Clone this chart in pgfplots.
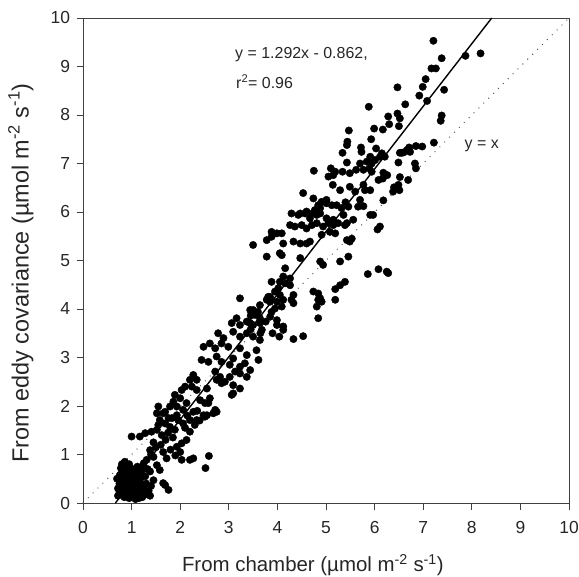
\documentclass[border=0pt]{standalone}
\usepackage{pgfplots}
\pgfplotsset{compat=1.18}
\usepackage{fontspec}
\setmainfont{Liberation Sans}
\begin{document}
\begin{tikzpicture}
\path[use as bounding box] (-83bp,-74bp) rectangle (496bp,503bp);
\begin{axis}[
  scale only axis,
  width=486bp, height=485bp,
  xmin=0, xmax=10, ymin=0, ymax=10,
  xtick={0,1,...,10}, ytick={0,1,...,10},
  tick align=outside,
  xtick pos=bottom, ytick pos=left,
  major tick length=6.5bp,
  tick style={black!75, line width=0.8bp},
  axis line style={black!75, line width=0.9bp},
  /pgf/number format/assume math mode=true,
  tick label style={font=\fontsize{17.5}{19}\selectfont, text=black!85},
  xticklabel style={yshift=-8bp},
  yticklabel style={xshift=-3bp},
  xlabel={From chamber (µmol m\textsuperscript{-2} s\textsuperscript{-1})},
  ylabel={From eddy covariance (µmol m\textsuperscript{-2} s\textsuperscript{-1})},
  xlabel style={font=\fontsize{20.5}{23}\selectfont, text=black!85, at={(axis description cs:0.473,-0.128)}, anchor=center},
  ylabel style={font=\fontsize{23.5}{26}\selectfont, text=black!85, at={(axis description cs:-0.128,0.474)}, anchor=center},
  clip=false,
]
\addplot[black!70, dash pattern=on 0.9bp off 6bp, line width=1bp] coordinates {(0,0) (10,10)};
\addplot[only marks, mark=*, mark size=3.7bp, mark options={fill=black, draw=black}] table {
x y
7.21 9.53
7.87 9.22
8.18 9.27
7.38 9.17
7.17 8.96
7.26 8.96
7.05 8.74
6.99 8.58
6.47 8.57
7.43 8.52
6.92 8.40
7.08 8.29
6.63 8.22
5.88 8.17
6.28 7.97
6.47 8.03
6.52 7.93
7.38 7.99
7.36 7.88
6.30 7.81
6.50 7.77
6.17 7.70
5.99 7.72
5.47 7.68
5.93 7.50
5.44 7.45
5.43 7.38
7.22 7.43
6.98 7.35
6.85 7.36
6.71 7.33
6.60 7.23
6.52 7.22
6.15 7.21
6.11 7.14
5.72 7.33
5.73 7.24
5.34 7.22
6.03 7.31
6.56 7.22
6.67 7.28
6.73 7.24
5.91 7.14
6.21 7.14
6.49 7.02
6.83 7.00
6.85 6.90
5.43 7.02
5.70 7.00
5.84 7.04
5.94 7.00
6.01 7.07
4.75 6.85
5.10 6.90
5.19 6.83
5.15 6.76
5.34 6.83
5.49 6.80
5.62 6.87
5.77 6.87
5.89 6.90
5.94 6.83
6.18 6.81
5.05 6.73
4.53 6.39
5.14 6.56
5.29 6.45
5.49 6.52
5.60 6.42
5.77 6.56
5.80 6.45
5.91 6.45
6.08 6.66
6.17 6.69
6.26 6.76
6.52 6.72
6.69 6.66
6.40 6.51
6.49 6.56
6.51 6.45
6.38 6.42
6.18 6.24
4.74 6.28
4.91 6.21
5.01 6.25
4.88 6.08
5.12 6.14
5.22 6.14
5.32 6.08
5.46 6.11
5.66 6.11
5.77 6.12
5.70 6.25
4.84 6.14
5.01 6.18
5.40 6.20
5.91 5.94
5.97 5.94
6.11 5.70
6.06 5.64
4.47 5.97
4.60 6.01
4.67 5.87
4.81 5.94
5.01 5.87
5.15 5.84
5.36 5.94
5.39 5.73
5.56 5.84
4.29 5.97
4.43 5.94
4.57 5.97
4.69 5.96
4.77 6.04
4.88 5.97
4.26 5.73
4.36 5.70
4.50 5.73
4.60 5.66
4.71 5.73
4.81 5.77
4.94 5.70
5.05 5.77
5.15 5.73
5.25 5.77
5.43 5.77
3.88 5.59
3.99 5.56
4.09 5.56
5.08 5.59
4.91 5.53
5.19 5.56
5.43 5.42
5.49 5.39
5.53 5.45
4.12 5.35
4.33 5.39
4.47 5.35
4.60 5.35
4.67 5.39
3.50 5.32
3.78 5.42
3.88 5.49
4.05 5.15
4.09 5.11
3.78 5.08
4.47 5.05
4.88 4.98
5.29 4.98
5.46 5.08
4.94 4.91
4.16 4.84
5.86 4.72
6.08 4.82
6.25 4.77
6.28 4.74
4.12 4.67
4.05 4.56
3.88 4.56
4.26 4.49
4.16 4.53
4.26 4.63
5.39 4.56
5.29 4.49
5.19 4.41
4.74 4.36
4.84 4.32
4.02 4.43
3.95 4.36
3.85 4.25
3.78 4.19
3.64 4.08
3.50 3.98
4.05 4.29
4.12 4.19
4.09 4.05
4.33 4.29
4.29 4.19
4.33 4.12
4.84 4.19
4.81 4.05
5.19 4.19
4.88 4.22
4.91 4.15
3.23 4.22
3.85 4.15
3.95 4.01
3.81 4.25
3.99 4.15
3.88 3.94
4.84 3.81
3.44 3.98
3.54 3.88
3.64 3.81
3.85 3.84
3.99 3.77
4.12 3.64
3.37 3.74
3.50 3.67
3.47 3.91
3.99 3.67
4.12 3.57
4.33 3.38
4.53 3.44
4.04 3.43
3.16 3.81
3.06 3.71
3.23 3.67
3.44 3.71
3.64 3.71
3.68 3.57
3.45 3.86
3.60 3.94
3.76 3.74
3.45 3.58
3.65 3.50
3.90 3.50
2.78 3.50
2.89 3.40
3.09 3.53
3.23 3.43
3.37 3.50
3.50 3.43
3.64 3.36
2.48 3.22
2.61 3.29
2.72 3.19
2.85 3.29
2.99 3.22
3.23 3.19
3.37 3.05
3.57 3.15
3.61 2.95
2.44 2.95
2.58 2.91
2.75 3.02
2.85 2.91
3.09 2.98
3.02 2.85
3.23 2.81
3.33 2.88
3.44 2.74
3.37 2.60
3.23 2.67
3.13 2.71
2.72 2.71
2.82 2.60
2.75 2.54
2.92 2.50
3.02 2.60
2.85 2.47
2.27 2.64
2.20 2.54
2.34 2.54
2.10 2.40
2.24 2.40
2.03 2.33
2.34 2.33
3.09 2.43
3.23 2.36
3.06 2.23
3.09 2.26
2.55 2.36
2.61 2.16
2.41 2.12
2.51 2.06
2.72 1.92
1.89 2.23
2.00 2.16
1.86 2.09
1.79 1.99
1.93 1.99
2.06 1.92
2.13 2.06
1.55 1.99
1.69 1.88
1.52 1.85
1.65 1.85
1.76 1.75
2.27 1.88
2.48 1.81
2.58 2.06
2.55 1.81
2.75 1.88
2.68 1.85
2.51 1.78
2.34 1.71
1.00 1.37
1.17 1.37
1.28 1.44
1.41 1.47
1.52 1.51
1.58 1.71
1.55 1.61
1.69 1.64
1.83 1.75
1.93 1.81
1.79 1.57
1.89 1.51
1.96 1.71
2.06 1.64
2.20 1.47
2.13 1.30
2.03 1.23
1.93 1.16
2.20 1.71
2.30 1.61
1.38 1.09
1.62 1.40
1.70 1.30
1.75 1.45
1.85 1.35
1.60 1.20
1.50 1.15
1.65 1.05
1.80 1.10
1.45 1.25
1.72 0.92
1.90 0.98
2.00 1.05
1.40 1.00
2.10 1.55
2.40 1.70
2.35 1.90
2.15 1.80
2.03 0.89
2.20 0.89
2.27 0.92
2.59 0.97
2.52 0.72
1.65 0.41
1.76 0.27
1.69 0.37
1.45 0.95
1.31 0.89
1.52 0.78
1.58 0.68
1.38 0.65
1.24 0.75
1.17 0.54
1.45 0.47
0.72 0.15
0.75 0.25
0.78 0.35
0.80 0.45
0.82 0.55
0.85 0.65
0.78 0.72
0.88 0.75
0.90 0.20
0.92 0.30
0.95 0.40
0.97 0.50
1.00 0.60
1.02 0.70
0.85 0.12
0.95 0.10
1.05 0.15
1.10 0.25
1.12 0.35
1.15 0.45
1.08 0.55
1.20 0.65
1.18 0.20
1.25 0.30
1.30 0.40
1.22 0.12
1.30 0.18
1.35 0.25
0.88 0.38
0.92 0.58
1.05 0.42
0.98 0.28
0.82 0.28
0.75 0.40
0.80 0.62
0.70 0.50
0.72 0.30
1.28 0.55
1.12 0.75
0.95 0.80
1.00 0.35
1.08 0.08
1.15 0.10
0.90 0.48
1.02 0.22
1.40 0.35
1.38 0.15
0.86 0.85
1.25 0.82
1.33 0.70
0.76 0.58
0.98 0.68
1.10 0.62
1.18 0.50
1.20 0.38
0.84 0.18
0.93 0.15
1.06 0.30
1.14 0.28
0.80 0.80
};
\addplot[black, line width=1.4bp] coordinates {(0.667,0) (8.41,10)};
\node[anchor=west, font=\fontsize{16}{18}\selectfont, text=black!85] at (axis cs:3.06,9.24) {y = 1.292x - 0.862,};
\node[anchor=west, font=\fontsize{16}{18}\selectfont, text=black!85] at (axis cs:3.08,8.68) {r\textsuperscript{2}= 0.96};
\node[anchor=west, font=\fontsize{16}{18}\selectfont, text=black!85] at (axis cs:7.78,7.36) {y = x};
\end{axis}
\end{tikzpicture}
\end{document}
